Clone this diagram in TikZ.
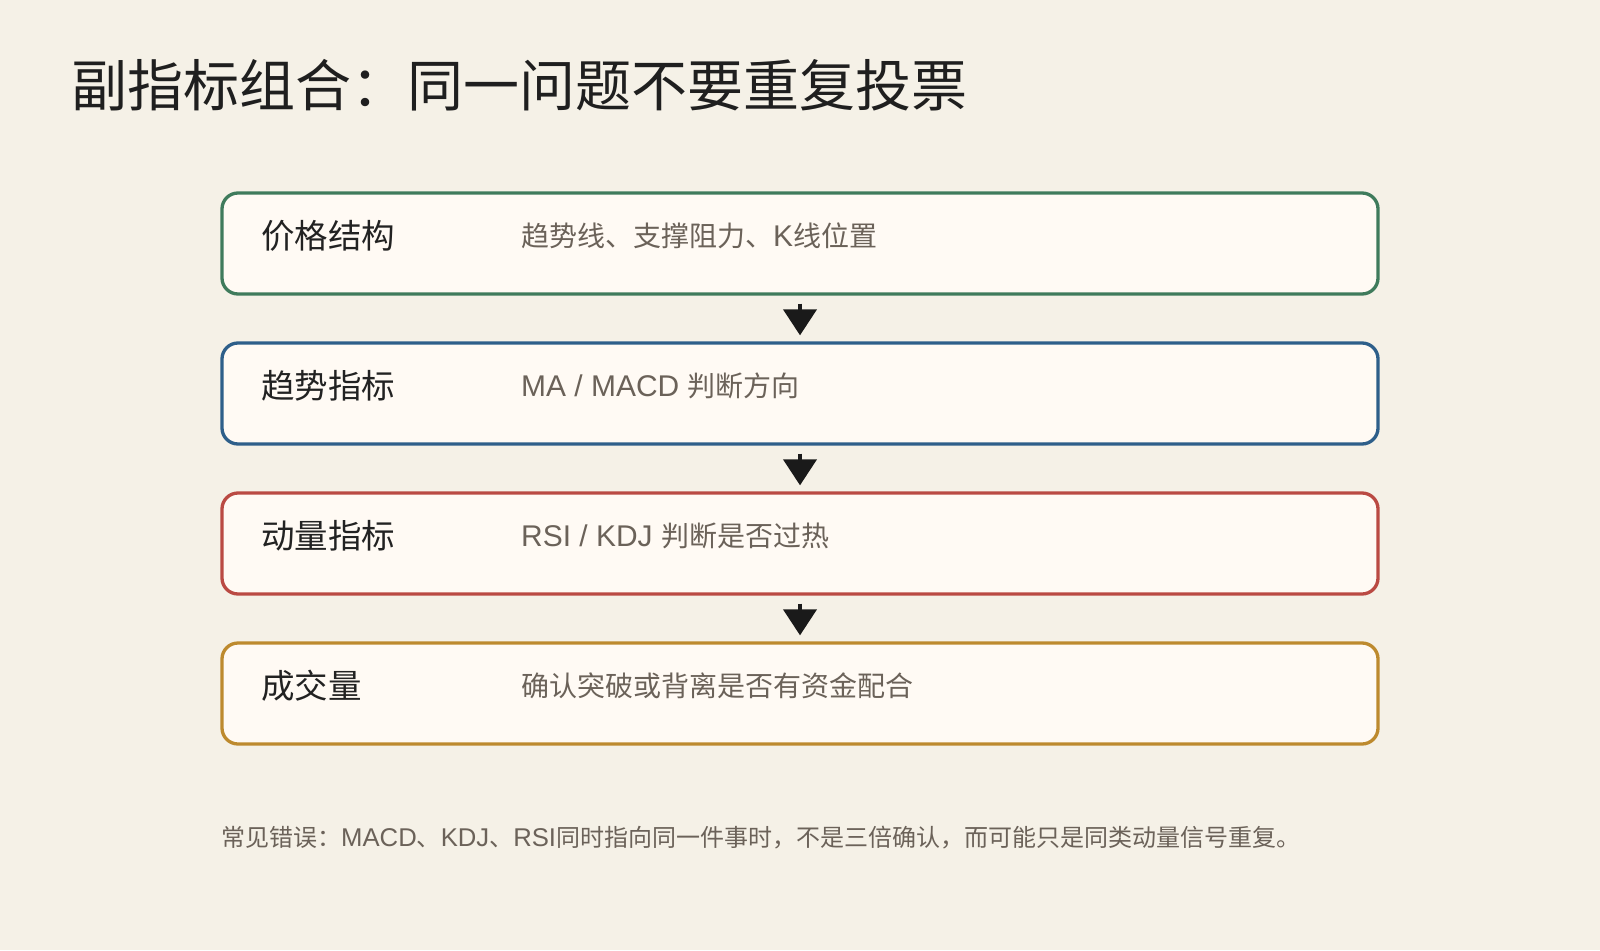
\documentclass[tikz,border=0pt]{standalone}
\usepackage{fontspec}
\setmainfont{Noto Sans CJK SC}
\newfontfamily\latinf[Scale=1.07]{Liberation Sans}
\newcommand\lt[1]{{\latinf #1}}
\usetikzlibrary{arrows.meta,calc}
\definecolor{bg}{HTML}{F5F1E7}
\definecolor{boxfill}{HTML}{FFFAF4}
\definecolor{cgreen}{HTML}{3F7B5C}
\definecolor{cblue}{HTML}{2E5F8A}
\definecolor{cred}{HTML}{BA4A43}
\definecolor{cgold}{HTML}{BD8A2E}
\definecolor{titlec}{HTML}{1F1F1F}
\definecolor{labelc}{HTML}{222222}
\definecolor{descc}{HTML}{6B6259}
\definecolor{arrc}{HTML}{1A1A1A}
\tikzset{
  stagebox/.style={draw=#1, fill=boxfill, line width=3.3pt, rounded corners=16pt,
    minimum width=1156pt, minimum height=101pt, inner sep=0pt},
  labeltext/.style={anchor=west, inner sep=0pt, text=labelc, font=\fontsize{33.5}{38}\selectfont},
  desctext/.style={anchor=west, inner sep=0pt, text=descc, font=\fontsize{28}{32}\selectfont},
  flowarrow/.style={draw=arrc, line width=4pt, -{Triangle[width=33pt,length=26pt]}},
}
\begin{document}
\begin{tikzpicture}[x=1pt,y=-1pt]
\useasboundingbox (0,0) rectangle (1600,950);
\fill[bg] (0,0) rectangle (1600,950);
\node[anchor=west, inner sep=0pt, text=titlec, font=\fontsize{56}{62}\selectfont] (title) at (71,85) {副指标组合：同一问题不要重复投票};

\node[stagebox=cgreen] (b1) at (800,243.5) {};
\node[stagebox=cblue]  (b2) at (800,393.5) {};
\node[stagebox=cred]   (b3) at (800,543.5) {};
\node[stagebox=cgold]  (b4) at (800,693.5) {};

\node[labeltext] (l1) at (261,236) {价格结构};
\node[desctext]  (d1) at (521,236) {趋势线、支撑阻力、\lt{K}线位置};
\node[labeltext] (l2) at (261,386) {趋势指标};
\node[desctext]  (d2) at (521,386) {\lt{MA / MACD }判断方向};
\node[labeltext] (l3) at (261,536) {动量指标};
\node[desctext]  (d3) at (521,536) {\lt{RSI / KDJ }判断是否过热};
\node[labeltext] (l4) at (261,686) {成交量};
\node[desctext]  (d4) at (521,686) {确认突破或背离是否有资金配合};

\draw[flowarrow] ([yshift=-8pt]b1.south) -- ([yshift=6pt]b2.north);
\draw[flowarrow] ([yshift=-8pt]b2.south) -- ([yshift=6pt]b3.north);
\draw[flowarrow] ([yshift=-8pt]b3.south) -- ([yshift=6pt]b4.north);

\node[anchor=west, inner sep=0pt, text=descc, font=\fontsize{24}{28}\selectfont] (foot) at (221,838) {常见错误：\lt{MACD}、\lt{KDJ}、\lt{RSI}同时指向同一件事时，不是三倍确认，而可能只是同类动量信号重复。};
\end{tikzpicture}
\end{document}
